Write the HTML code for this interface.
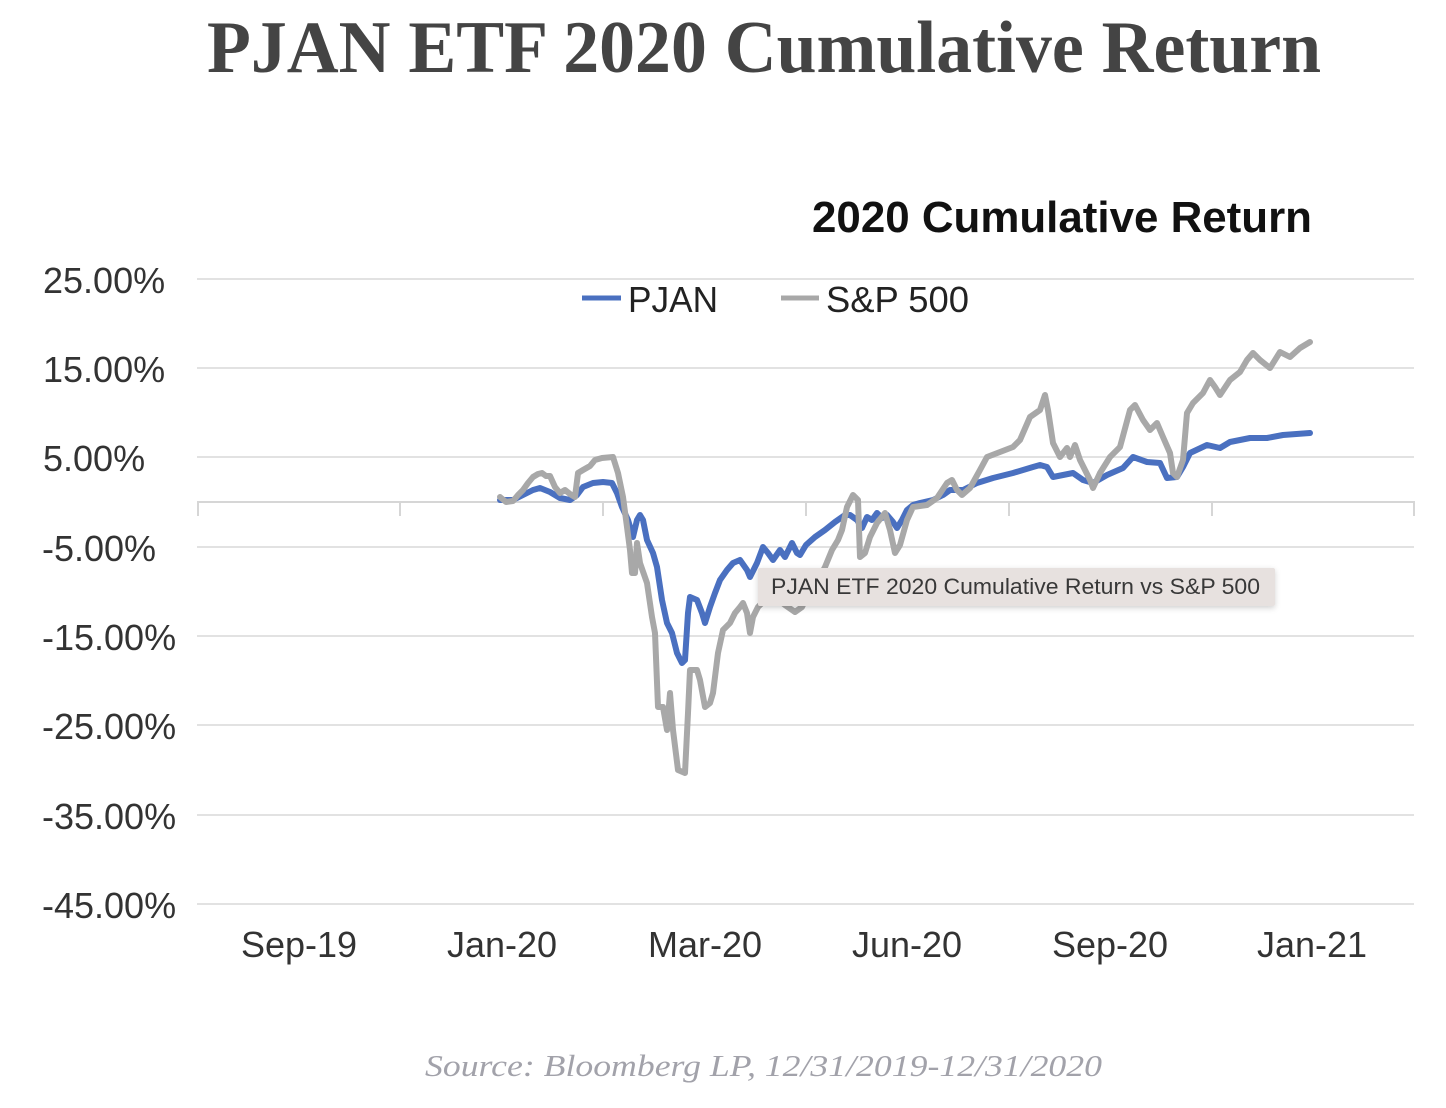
<!DOCTYPE html>
<html>
<head>
<meta charset="utf-8">
<style>
  html, body { margin:0; padding:0; background:#ffffff; }
  body { width:1446px; height:1108px; overflow:hidden; }
  svg { display:block; }
</style>
</head>
<body>
<svg width="1446" height="1108" viewBox="0 0 1446 1108" xmlns="http://www.w3.org/2000/svg">
  <defs>
    <filter id="sh" x="-10%" y="-50%" width="120%" height="200%">
      <feDropShadow dx="0" dy="2" stdDeviation="3" flood-color="#000" flood-opacity="0.18"/>
    </filter>
  </defs>
  <rect width="1446" height="1108" fill="#ffffff"/>

  <!-- Main title -->
  <text x="207" y="72" font-family="Liberation Serif, serif" font-weight="bold" font-size="74" fill="#444444" textLength="1114" lengthAdjust="spacingAndGlyphs">PJAN ETF 2020 Cumulative Return</text>

  <!-- Inner chart title -->
  <text x="812" y="232" font-family="Liberation Sans, Arial, sans-serif" font-weight="bold" font-size="44" fill="#111111" textLength="500" lengthAdjust="spacingAndGlyphs">2020 Cumulative Return</text>

  <!-- Gridlines -->
  <g stroke="#e2e2e2" stroke-width="2" fill="none">
    <line x1="197" y1="279" x2="1414" y2="279"/>
    <line x1="197" y1="368" x2="1414" y2="368"/>
    <line x1="197" y1="457" x2="1414" y2="457"/>
    <line x1="197" y1="547" x2="1414" y2="547"/>
    <line x1="197" y1="636" x2="1414" y2="636"/>
    <line x1="197" y1="725" x2="1414" y2="725"/>
    <line x1="197" y1="815" x2="1414" y2="815"/>
    <line x1="197" y1="904" x2="1414" y2="904"/>
  </g>
  <!-- Zero axis with ticks -->
  <g stroke="#d6d6d6" stroke-width="2" fill="none">
    <line x1="197" y1="502" x2="1415" y2="502"/>
    <line x1="198" y1="502" x2="198" y2="516"/>
    <line x1="400" y1="502" x2="400" y2="516"/>
    <line x1="603" y1="502" x2="603" y2="516"/>
    <line x1="806" y1="502" x2="806" y2="516"/>
    <line x1="1009" y1="502" x2="1009" y2="516"/>
    <line x1="1212" y1="502" x2="1212" y2="516"/>
    <line x1="1414" y1="502" x2="1414" y2="516"/>
  </g>

  <!-- Y axis labels -->
  <g font-family="Liberation Sans, Arial, sans-serif" font-size="36" fill="#333333">
    <text x="43" y="293">25.00%</text>
    <text x="43" y="382">15.00%</text>
    <text x="43" y="471">5.00%</text>
    <text x="42" y="561">-5.00%</text>
    <text x="42" y="650">-15.00%</text>
    <text x="42" y="739">-25.00%</text>
    <text x="42" y="829">-35.00%</text>
    <text x="42" y="918">-45.00%</text>
  </g>

  <!-- X axis labels -->
  <g font-family="Liberation Sans, Arial, sans-serif" font-size="36" fill="#333333" text-anchor="middle">
    <text x="299" y="957">Sep-19</text>
    <text x="502" y="957">Jan-20</text>
    <text x="705" y="957">Mar-20</text>
    <text x="907" y="957">Jun-20</text>
    <text x="1110" y="957">Sep-20</text>
    <text x="1312" y="957">Jan-21</text>
  </g>

  <!-- Legend -->
  <line x1="582" y1="298" x2="621" y2="298" stroke="#4a70c0" stroke-width="5"/>
  <text x="628" y="312" font-family="Liberation Sans, Arial, sans-serif" font-size="36" fill="#222222" textLength="90" lengthAdjust="spacingAndGlyphs">PJAN</text>
  <line x1="781" y1="298" x2="819" y2="298" stroke="#a8a8a8" stroke-width="5"/>
  <text x="826" y="312" font-family="Liberation Sans, Arial, sans-serif" font-size="36" fill="#222222" textLength="143" lengthAdjust="spacingAndGlyphs">S&amp;P 500</text>

  <!-- PJAN series -->
  <polyline fill="none" stroke="#4a70c0" stroke-width="6" stroke-linejoin="round" stroke-linecap="round" points="
500,500 513,500 523,495 533,490 540,488 550,492 560,498 570,500 577,495 583,487 593,483 603,482 612,483 617,493 622,507 628,520 633,537 637,520 640,515 643,520 647,540 653,553 657,567 662,600 667,623 672,633 677,653 682,663 685,660 688,613 690,597 697,600 702,613 705,623 710,607 715,593 720,580 727,570 733,563 740,560 747,570 750,577 757,563 763,547 768,553 773,560 780,550 785,557 792,543 797,553 800,555 806,545 815,537 825,530 835,522 845,515 850,515 857,520 862,528 867,517 872,520 877,513 882,518 887,515 893,522 897,528 902,520 907,510 913,505 920,503 933,500 943,495 950,490 963,490 977,483 993,478 1013,473 1033,467 1040,465 1047,467 1053,477 1063,475 1073,473 1083,480 1093,483 1107,475 1123,468 1133,457 1147,462 1160,463 1167,478 1177,477 1183,467 1190,453 1207,445 1220,448 1230,442 1250,438 1267,438 1283,435 1310,433"/>

  <!-- S&P 500 series -->
  <polyline fill="none" stroke="#a8a8a8" stroke-width="6" stroke-linejoin="round" stroke-linecap="round" points="
500,497 506,502 513,501 518,495 523,490 528,483 533,477 538,474 542,473 546,476 550,476 555,487 560,493 565,490 570,494 575,497 578,473 583,470 590,466 595,460 602,458 613,457 618,473 623,497 627,527 630,550 632,573 635,573 637,543 640,563 647,583 652,617 655,633 658,707 663,707 667,730 670,693 673,730 678,770 685,773 688,713 690,670 697,670 700,680 705,707 710,703 713,693 718,653 723,630 730,623 735,613 740,607 743,603 747,613 750,633 753,617 758,607 765,600 775,597 785,605 795,612 802,607 810,590 818,580 825,567 832,550 838,540 842,530 847,507 853,495 858,500 860,557 865,553 870,537 877,523 885,513 890,530 895,553 900,545 907,520 913,507 927,505 937,498 947,483 952,480 957,490 962,495 970,488 980,470 987,457 1000,452 1013,447 1020,440 1030,417 1040,410 1045,395 1048,410 1053,443 1060,457 1067,448 1070,457 1075,445 1080,460 1090,480 1093,488 1100,473 1110,457 1120,447 1130,410 1135,405 1143,420 1150,430 1157,423 1163,437 1170,453 1173,473 1177,477 1183,460 1187,413 1193,403 1203,393 1210,380 1215,387 1220,395 1230,380 1240,372 1247,360 1253,353 1260,360 1270,368 1280,352 1290,357 1300,348 1310,342"/>

  <!-- Tooltip -->
  <rect x="758" y="568" width="517" height="38" rx="2" fill="#e7e1df" filter="url(#sh)"/>
  <text x="771" y="594" font-family="Liberation Sans, Arial, sans-serif" font-size="22" fill="#383838" textLength="489" lengthAdjust="spacingAndGlyphs">PJAN ETF 2020 Cumulative Return vs S&amp;P 500</text>

  <!-- Source -->
  <text x="425" y="1076" font-family="Liberation Serif, serif" font-style="italic" font-size="31" fill="#a2a2aa" textLength="677" lengthAdjust="spacingAndGlyphs">Source: Bloomberg LP, 12/31/2019-12/31/2020</text>
</svg>
</body>
</html>
